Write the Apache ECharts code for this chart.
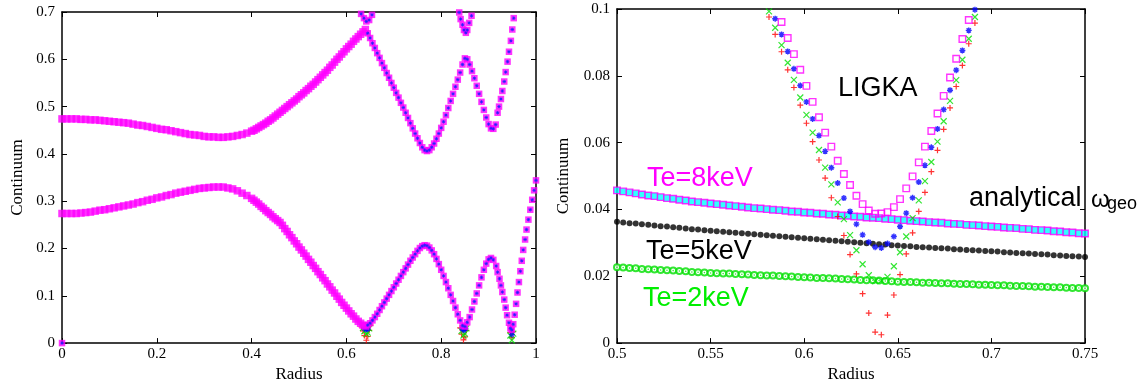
<!DOCTYPE html>
<html><head><meta charset="utf-8">
<script src="https://cdn.jsdelivr.net/npm/echarts@6/dist/echarts.min.js"></script>
<style>html,body{margin:0;padding:0;background:#fff}#c{width:1146px;height:388px}</style>
</head><body><div id="c"></div>
<script>
// ---------- LEFT PANEL DATA (Radius, Continuum) ----------
const leftUpperDense = [[0,0.474],[0.01,0.474],[0.02,0.474],[0.03,0.474],[0.04,0.473],[0.05,0.473],[0.06,0.472],[0.07,0.472],[0.08,0.471],[0.09,0.470],
[0.10,0.469],[0.11,0.468],[0.12,0.467],[0.13,0.466],[0.14,0.465],[0.15,0.463],[0.16,0.461],[0.17,0.460],[0.18,0.458],[0.19,0.456],
[0.20,0.454],[0.21,0.452],[0.22,0.451],[0.23,0.449],[0.24,0.447],[0.25,0.445],[0.26,0.443],[0.27,0.441],[0.28,0.440],[0.29,0.439],
[0.30,0.437],[0.31,0.436],[0.32,0.436],[0.33,0.435],[0.34,0.435],[0.35,0.436],[0.36,0.437],[0.37,0.439],[0.38,0.441],[0.39,0.444],
[0.40,0.448],[0.405,0.450],[0.41,0.453],[0.415,0.456],[0.42,0.459],[0.425,0.462],[0.43,0.465],[0.435,0.469],[0.44,0.472],[0.445,0.476],
[0.45,0.480],[0.455,0.484],[0.46,0.488],[0.465,0.492],[0.47,0.496],[0.475,0.500],[0.48,0.504],[0.485,0.508],[0.49,0.512],[0.495,0.516],
[0.50,0.521],[0.505,0.525],[0.51,0.529],[0.515,0.534],[0.52,0.538],[0.525,0.543],[0.53,0.547],[0.535,0.552],[0.54,0.557],[0.545,0.562],
[0.55,0.567],[0.555,0.572],[0.56,0.577],[0.565,0.583],[0.57,0.588],[0.575,0.594],[0.58,0.600],[0.585,0.605],[0.59,0.611],[0.595,0.616],
[0.60,0.622],[0.605,0.627],[0.61,0.632],[0.615,0.638],[0.62,0.643],[0.625,0.648],[0.63,0.653],[0.635,0.658],[0.64,0.663]];
const leftUpperSparse = [[0.645,0.655],[0.65,0.645],[0.655,0.634],[0.66,0.624],[0.665,0.613],[0.67,0.603],[0.675,0.592],[0.68,0.582],[0.685,0.571],[0.69,0.561],
[0.695,0.550],[0.70,0.540],[0.705,0.529],[0.71,0.519],[0.715,0.508],[0.72,0.498],[0.725,0.487],[0.73,0.476],[0.735,0.465],[0.74,0.454],
[0.745,0.443],[0.75,0.433],[0.755,0.423],[0.76,0.414],[0.765,0.408],[0.77,0.406],[0.775,0.408],[0.78,0.414],[0.785,0.422],[0.79,0.432],
[0.795,0.443],[0.80,0.455],[0.805,0.468],[0.81,0.482],[0.815,0.497],[0.82,0.512],[0.825,0.527],[0.83,0.542],[0.835,0.557],[0.84,0.572],
[0.845,0.589],[0.85,0.602],[0.855,0.600],[0.86,0.589],[0.865,0.575],[0.87,0.560],[0.875,0.544],[0.88,0.527],[0.885,0.510],[0.89,0.493],
[0.895,0.477],[0.90,0.463],[0.905,0.454],[0.91,0.453],[0.915,0.462],[0.919,0.487],[0.922,0.500],[0.926,0.516],[0.929,0.533],[0.933,0.553],
[0.936,0.573],[0.940,0.595],[0.943,0.616],[0.947,0.639],[0.950,0.663],[0.953,0.687]];
const leftTopU1 = [[0.626,0.712],[0.631,0.696],[0.637,0.687],[0.642,0.680],[0.648,0.683],[0.654,0.694],[0.658,0.701]];
const leftTopU2 = [[0.834,0.714],[0.838,0.699],[0.841,0.685],[0.845,0.673],[0.848,0.662],[0.852,0.656],[0.855,0.662],[0.859,0.677],[0.864,0.692],[0.868,0.708]];
const leftLowerDense = [[0,0.274],[0.01,0.274],[0.02,0.274],[0.03,0.274],[0.04,0.275],[0.05,0.276],[0.06,0.277],[0.07,0.279],[0.08,0.281],[0.09,0.282],
[0.10,0.284],[0.11,0.286],[0.12,0.288],[0.13,0.290],[0.14,0.292],[0.15,0.294],[0.16,0.297],[0.17,0.299],[0.18,0.302],[0.19,0.304],
[0.20,0.307],[0.21,0.309],[0.22,0.312],[0.23,0.314],[0.24,0.317],[0.25,0.319],[0.26,0.321],[0.27,0.323],[0.28,0.325],[0.29,0.327],
[0.30,0.328],[0.31,0.329],[0.32,0.330],[0.33,0.330],[0.34,0.330],[0.35,0.328],[0.36,0.326],[0.37,0.322],[0.38,0.317],[0.39,0.312],
[0.40,0.306],[0.405,0.302],[0.41,0.298],[0.415,0.294],[0.42,0.289],[0.425,0.285],[0.43,0.280],[0.435,0.276],[0.44,0.272],[0.445,0.267],
[0.45,0.263],[0.455,0.259],[0.46,0.255],[0.465,0.249],[0.47,0.242],[0.475,0.236],[0.48,0.229],[0.485,0.223],[0.49,0.216],[0.495,0.210],
[0.50,0.203],[0.505,0.197],[0.51,0.190],[0.515,0.184],[0.52,0.177],[0.525,0.171],[0.53,0.164],[0.535,0.158],[0.54,0.151],[0.545,0.145],
[0.55,0.138],[0.555,0.132],[0.56,0.125],[0.565,0.119],[0.57,0.112],[0.575,0.106],[0.58,0.099],[0.585,0.093],[0.59,0.086],[0.595,0.080],
[0.60,0.074],[0.605,0.068],[0.61,0.062],[0.615,0.057],[0.62,0.051],[0.625,0.046],[0.63,0.042],[0.635,0.038],[0.64,0.036]];
const leftLowerSparse = [[0.645,0.038],[0.65,0.042],[0.655,0.048],[0.66,0.055],[0.665,0.062],[0.67,0.070],[0.675,0.078],[0.68,0.086],[0.685,0.094],[0.69,0.102],
[0.695,0.110],[0.70,0.118],[0.705,0.126],[0.71,0.134],[0.715,0.142],[0.72,0.150],[0.725,0.158],[0.73,0.166],[0.735,0.174],[0.74,0.181],
[0.745,0.188],[0.75,0.195],[0.755,0.201],[0.76,0.205],[0.765,0.207],[0.77,0.206],[0.775,0.202],[0.78,0.196],[0.785,0.188],[0.79,0.178],
[0.795,0.167],[0.80,0.155],[0.805,0.142],[0.81,0.129],[0.815,0.116],[0.82,0.102],[0.825,0.089],[0.83,0.075],[0.835,0.061],[0.84,0.048],
[0.845,0.037],[0.85,0.035],[0.855,0.044],[0.86,0.055],[0.865,0.071],[0.87,0.088],[0.875,0.105],[0.88,0.122],[0.885,0.139],[0.89,0.155],
[0.895,0.168],[0.90,0.177],[0.905,0.180],[0.91,0.176],[0.916,0.163],[0.919,0.150],[0.923,0.136],[0.926,0.122],[0.929,0.108],[0.933,0.092],
[0.936,0.075],[0.939,0.059],[0.943,0.043],[0.946,0.031],[0.949,0.028],[0.952,0.040],[0.955,0.060],[0.958,0.083],[0.961,0.107],[0.964,0.129],
[0.967,0.152],[0.970,0.174],[0.973,0.197],[0.977,0.219],[0.980,0.240],[0.984,0.261],[0.988,0.282],[0.992,0.303],[0.996,0.323],[1.0,0.344]];
const leftOrigin = [[0,0]];
const leftRedMin = [[0.632,0.034],[0.635,0.026],[0.638,0.016],[0.642,0.006],[0.645,0.014],[0.648,0.027],[0.651,0.038],
[0.840,0.032],[0.843,0.019],[0.847,0.007],[0.850,0.013],[0.853,0.027],[0.946,0.022],[0.949,0.012],[0.952,0.024]];
const leftGreenMin = [[0.635,0.032],[0.638,0.025],[0.642,0.019],[0.645,0.022],[0.648,0.031],
[0.843,0.026],[0.847,0.016],[0.850,0.020],[0.853,0.031],[0.946,0.016],[0.949,0.006],[0.952,0.020]];
const leftBlueMin = [[0.638,0.031],[0.642,0.029],[0.645,0.030],[0.845,0.030],[0.848,0.027],[0.851,0.031],[0.949,0.018]];

// ---------- RIGHT PANEL DATA ----------
const ligkaR = [0.5812,0.5845,0.5879,0.5912,0.5945,0.5979,0.6012,0.6045,0.6079,0.6112,0.6145,0.6179,0.6212,0.6245,0.6279,0.6312,0.6345,
0.6379,0.6412,0.6445,0.6479,0.6512,0.6545,0.6579,0.6612,0.6645,0.6679,0.6712,0.6745,0.6779,0.6812,0.6845,0.6879,0.6912];
const ligkaRed = [0.0976,0.0924,0.0872,0.0818,0.0765,0.0712,0.0658,0.0603,0.0548,0.0494,0.0435,0.0379,0.0322,0.0265,0.0207,0.0148,0.0090,
0.0033,0.0025,0.0084,0.0144,0.0205,0.0267,0.0330,0.0394,0.0451,0.0513,0.0577,0.0640,0.0704,0.0768,0.0831,0.0896,0.0958];
const ligkaGreen = [0.0993,0.0944,0.0892,0.0839,0.0788,0.0735,0.0683,0.0630,0.0578,0.0525,0.0475,0.0421,0.0371,0.0323,0.0278,0.0236,0.0203,
0.0186,0.0187,0.0198,0.0230,0.0272,0.0319,0.0374,0.0427,0.0485,0.0542,0.0603,0.0664,0.0725,0.0787,0.0848,0.0911,0.0976];
const ligkaBlue = [null,0.0971,0.0924,0.0873,0.0821,0.0771,0.0722,0.0671,0.0621,0.0574,0.0525,0.0479,0.0434,0.0394,0.0356,0.0324,0.0302,
0.0287,0.0285,0.0298,0.0319,0.0349,0.0389,0.0435,0.0482,0.0532,0.0586,0.0641,0.0699,0.0757,0.0817,0.0876,0.0936,0.0998];
const ligkaMagenta = [null,null,0.0961,0.0913,0.0865,0.0818,0.0770,0.0722,0.0676,0.0630,0.0588,0.0546,0.0506,0.0473,0.0441,0.0416,0.0397,
0.0387,0.0388,0.0392,0.0407,0.0431,0.0463,0.0499,0.0541,0.0588,0.0635,0.0687,0.0740,0.0795,0.0851,0.0910,0.0967,null];

const geoR = [0.5000,0.5033,0.5067,0.5100,0.5133,0.5167,0.5200,0.5233,0.5267,0.5300,0.5333,0.5367,0.5400,0.5433,0.5467,0.5500,0.5533,0.5567,0.5600,
0.5633,0.5667,0.5700,0.5733,0.5767,0.5800,0.5833,0.5867,0.5900,0.5933,0.5967,0.6000,0.6033,0.6067,0.6100,0.6133,0.6167,0.6200,0.6233,0.6267,
0.6300,0.6333,0.6367,0.6400,0.6433,0.6467,0.6500,0.6533,0.6567,0.6600,0.6633,0.6667,0.6700,0.6733,0.6767,0.6800,0.6833,0.6867,0.6900,0.6933,
0.6967,0.7000,0.7033,0.7067,0.7100,0.7133,0.7167,0.7200,0.7233,0.7267,0.7300,0.7333,0.7367,0.7400,0.7433,0.7467,0.7500];
const geoTe8 = [0.0457,0.0454,0.0451,0.0448,0.0445,0.0442,0.0440,0.0437,0.0434,0.0432,0.0429,0.0427,0.0424,0.0422,0.0420,0.0418,0.0416,0.0414,0.0412,
0.0410,0.0408,0.0406,0.0404,0.0403,0.0401,0.0399,0.0398,0.0396,0.0394,0.0393,0.0391,0.0390,0.0388,0.0387,0.0385,0.0384,0.0382,0.0381,0.0379,
0.0378,0.0376,0.0375,0.0374,0.0372,0.0371,0.0369,0.0368,0.0366,0.0365,0.0364,0.0362,0.0361,0.0360,0.0358,0.0357,0.0356,0.0354,0.0353,0.0352,
0.0350,0.0349,0.0348,0.0346,0.0345,0.0344,0.0342,0.0341,0.0339,0.0338,0.0337,0.0335,0.0334,0.0332,0.0331,0.0329,0.0328];
const geoTe5 = [0.0363,0.0361,0.0359,0.0358,0.0356,0.0354,0.0352,0.0350,0.0349,0.0347,0.0345,0.0343,0.0341,0.0340,0.0338,0.0336,0.0335,0.0333,0.0332,
0.0330,0.0329,0.0327,0.0326,0.0324,0.0323,0.0321,0.0320,0.0318,0.0317,0.0315,0.0314,0.0312,0.0311,0.0309,0.0308,0.0306,0.0305,0.0303,0.0302,
0.0300,0.0299,0.0297,0.0296,0.0295,0.0293,0.0292,0.0291,0.0290,0.0288,0.0287,0.0286,0.0285,0.0284,0.0283,0.0281,0.0280,0.0279,0.0278,0.0277,
0.0276,0.0275,0.0274,0.0272,0.0271,0.0270,0.0269,0.0268,0.0267,0.0266,0.0265,0.0263,0.0262,0.0261,0.0260,0.0259,0.0258];
const geoTe2 = [0.0227,0.0226,0.0225,0.0224,0.0222,0.0221,0.0220,0.0219,0.0218,0.0217,0.0216,0.0215,0.0213,0.0212,0.0211,0.0210,0.0209,0.0208,0.0208,
0.0207,0.0206,0.0205,0.0204,0.0203,0.0202,0.0202,0.0201,0.0200,0.0199,0.0198,0.0197,0.0196,0.0195,0.0195,0.0194,0.0193,0.0192,0.0191,0.0190,
0.0189,0.0188,0.0188,0.0187,0.0186,0.0185,0.0184,0.0183,0.0183,0.0182,0.0181,0.0181,0.0180,0.0179,0.0179,0.0178,0.0177,0.0177,0.0176,0.0175,
0.0175,0.0174,0.0173,0.0173,0.0172,0.0171,0.0171,0.0170,0.0169,0.0169,0.0168,0.0167,0.0167,0.0166,0.0165,0.0165,0.0164];

const leftXTicks = {min:0, max:1, interval:0.2};
const leftYTicks = {min:0, max:0.7, interval:0.1};
const rightXTicks = {min:0.5, max:0.75, interval:0.05};
const rightYTicks = {min:0, max:0.1, interval:0.02};

// ---------- helpers ----------
const pair = (xs, ys) => xs.map((x, i) => [x, ys[i]]).filter(p => p[1] !== null);
const PLUS = 'path://M5,0L5,10M0,5L10,5';
const CROSS = 'path://M1,1L9,9M9,1L1,9';
const STAR = 'path://M5,0L5,10M0,5L10,5M1.5,1.5L8.5,8.5M8.5,1.5L1.5,8.5';
const SERIF = 'Liberation Serif';
const SANS = '"Liberation Sans", Arial, sans-serif';
const MAG = '#ff00ff', BLU = '#0000ff', RED = '#ff0000', GRN = '#00e000';

function axisX(grid, t, pos, labels, name) {
  return {gridIndex: grid, type: 'value', position: pos, min: t.min, max: t.max, interval: t.interval,
    axisLine: {show: true, onZero: false, lineStyle: {color: '#000', width: 1.5}},
    axisTick: {show: true, inside: true, length: 5, lineStyle: {color: '#000', width: 1}},
    axisLabel: {show: labels, color: '#000', fontFamily: SERIF, fontSize: 15, margin: 3},
    splitLine: {show: false},
    name: name || '', nameLocation: 'middle', nameGap: 17,
    nameTextStyle: {color: '#000', fontFamily: SERIF, fontSize: 17}};
}
function axisY(grid, t, pos, labels, name, gap) {
  return {gridIndex: grid, type: 'value', position: pos, min: t.min, max: t.max, interval: t.interval,
    axisLine: {show: true, onZero: false, lineStyle: {color: '#000', width: 1.5}},
    axisTick: {show: true, inside: true, length: 5, lineStyle: {color: '#000', width: 1}},
    axisLabel: {show: labels, color: '#000', fontFamily: SERIF, fontSize: 15, margin: 7},
    splitLine: {show: false},
    name: name || '', nameLocation: 'middle', nameGap: gap || 30, nameRotate: 90,
    nameTextStyle: {color: '#000', fontFamily: SERIF, fontSize: 17}};
}
function sc(xi, data, symbol, size, style, z) {
  return {type: 'scatter', xAxisIndex: xi, yAxisIndex: xi, data: data, symbol: symbol, symbolSize: size,
    itemStyle: style, z: z || 2, silent: true, animation: false};
}

const magDense = [].concat(leftUpperDense, leftLowerDense);
const magSparse = [].concat(leftUpperSparse, leftTopU1, leftTopU2, leftLowerSparse, leftOrigin);

const chart = echarts.init(document.getElementById('c'), null, {renderer: 'canvas'});
chart.setOption({
  backgroundColor: '#fff',
  animation: false,
  textStyle: {fontFamily: SERIF},
  grid: [
    {left: 62, top: 12, width: 474, height: 337},
    {left: 617, top: 9, width: 468, height: 337}
  ],
  xAxis: [
    axisX(0, leftXTicks, 'bottom', true, 'Radius'),
    axisX(0, leftXTicks, 'top', false),
    axisX(1, rightXTicks, 'bottom', true, 'Radius'),
    axisX(1, rightXTicks, 'top', false)
  ],
  yAxis: [
    axisY(0, leftYTicks, 'left', true, 'Continuum', 36),
    axisY(0, leftYTicks, 'right', false),
    axisY(1, rightYTicks, 'left', true, 'Continuum', 45),
    axisY(1, rightYTicks, 'right', false)
  ],
  series: [
    // left panel
    sc(0, leftRedMin, PLUS, 6, {color: RED, borderColor: RED, borderWidth: 1.2}),
    sc(0, leftGreenMin, CROSS, 6, {color: GRN, borderColor: GRN, borderWidth: 1.2}),
    sc(0, leftBlueMin, STAR, 6, {color: BLU, borderColor: BLU, borderWidth: 1.2}),
    sc(0, magDense, 'rect', 7.5, {color: MAG}, 3),
    sc(0, magSparse, 'rect', 6.5, {color: MAG}, 3),
    sc(0, magSparse, STAR, 3.5, {color: BLU, borderColor: '#2020ff', borderWidth: 1}, 4),
    // right panel: analytical
    sc(2, pair(geoR, geoTe2), 'emptyCircle', 6, {color: GRN, borderColor: GRN, borderWidth: 1.1}),
    sc(2, pair(geoR, geoTe2), 'circle', 1.6, {color: GRN}, 3),
    sc(2, pair(geoR, geoTe5), 'circle', 6, {color: '#000'}),
    sc(2, pair(geoR, geoTe8), 'rect', 6.5, {color: '#00ffff', borderColor: MAG, borderWidth: 1.4}),
    // right panel: LIGKA
    sc(2, pair(ligkaR, ligkaRed), PLUS, 6, {color: RED, borderColor: RED, borderWidth: 1.2}, 4),
    sc(2, pair(ligkaR, ligkaGreen), CROSS, 6, {color: GRN, borderColor: GRN, borderWidth: 1.2}, 4),
    sc(2, pair(ligkaR, ligkaBlue), STAR, 6, {color: BLU, borderColor: BLU, borderWidth: 1.4}, 4),
    sc(2, pair(ligkaR, ligkaMagenta), 'rect', 6.5, {color: 'rgba(255,255,255,0)', borderColor: MAG, borderWidth: 1.4}, 4)
  ],
  graphic: [
    {type: 'text', x: 647, y: 179, z: 10, style: {text: 'Te=8keV', fill: MAG, font: '27px ' + SANS, verticalAlign: 'middle'}},
    {type: 'text', x: 838, y: 89, z: 10, style: {text: 'LIGKA', fill: '#000', font: '27px ' + SANS, verticalAlign: 'middle'}},
    {type: 'text', x: 646, y: 252, z: 10, style: {text: 'Te=5keV', fill: '#000', font: '27px ' + SANS, verticalAlign: 'middle'}},
    {type: 'text', x: 643, y: 299, z: 10, style: {text: 'Te=2keV', fill: '#00ee00', font: '27px ' + SANS, verticalAlign: 'middle'}},
    {type: 'text', x: 969, y: 199, z: 10, style: {text: 'analytical', fill: '#000', font: '27px ' + SANS, verticalAlign: 'middle'}},
    {type: 'text', x: 1091, y: 200, z: 10, style: {text: 'ω', fill: '#000', font: '24px ' + SANS, verticalAlign: 'middle'}},
    {type: 'text', x: 1107, y: 204, z: 10, style: {text: 'geo', fill: '#000', font: '18px ' + SANS, verticalAlign: 'middle'}}
  ]
});
</script></body></html>
